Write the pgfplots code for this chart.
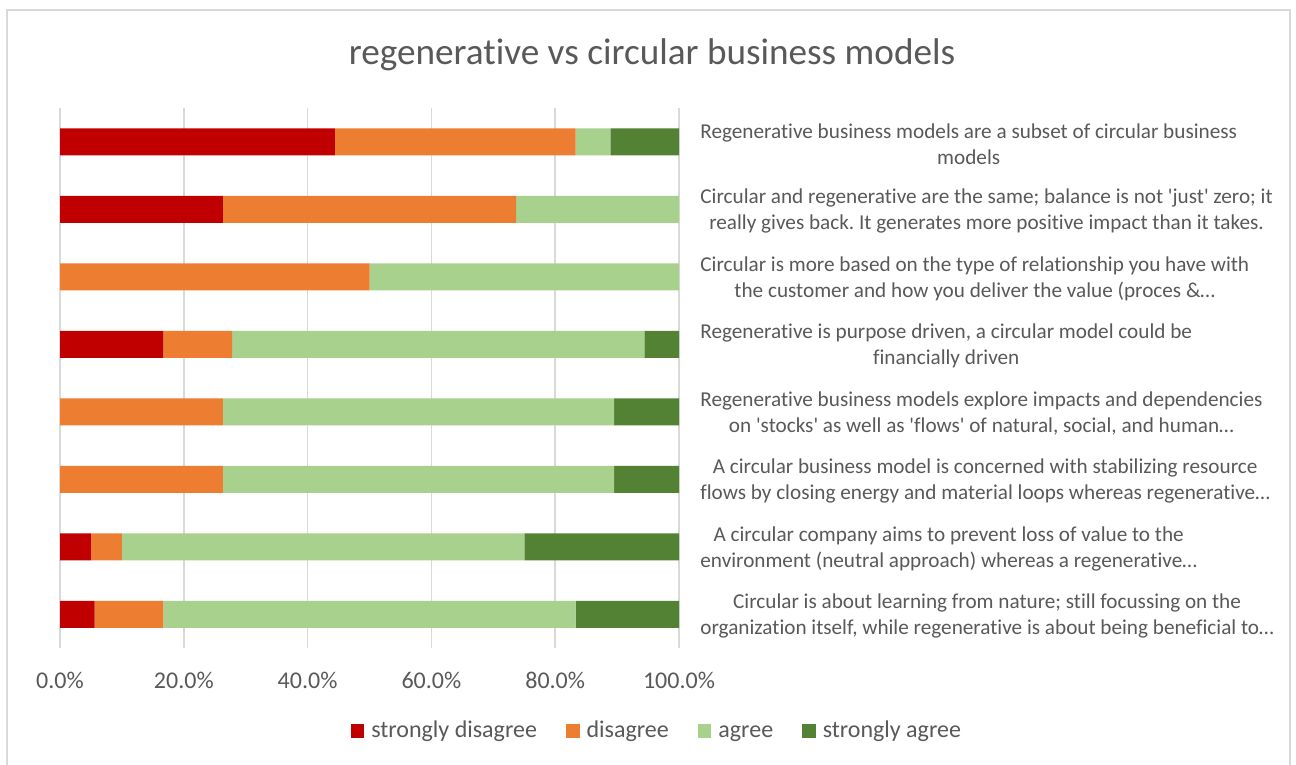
\documentclass[border=0pt]{standalone}
\usepackage{pgfplots}
\usepackage{pgfplotstable}
\pgfplotsset{compat=1.18}
\usepackage{fontspec}
\setmainfont{Carlito}[Ligatures=NoCommon]
\frenchspacing
\definecolor{txt}{HTML}{595959}
\definecolor{gridc}{HTML}{D9D9D9}
\definecolor{csd}{HTML}{C00000}
\definecolor{cd}{HTML}{ED7D31}
\definecolor{ca}{HTML}{A9D18E}
\definecolor{csa}{HTML}{548235}
\newcommand\q{\textquotesingle}
\pgfplotsset{sqleg/.style={legend image code/.code={\fill[##1] (0bp,-3.4bp) rectangle (6.8bp,3.4bp); \path (8.8bp,0bp);}}}
\pgfplotstableread{
y sd d a sa
7 44.4 38.9 5.6 11.1
6 26.3 47.4 26.3 0
5 0 50 50 0
4 16.7 11.1 66.6 5.6
3 0 26.3 63.2 10.5
2 0 26.3 63.2 10.5
1 5 5 65 25
0 5.6 11.1 66.6 16.7
}\datatable
\begin{document}
\begin{tikzpicture}
\useasboundingbox (0,0) rectangle (648bp,382.5bp);
\fill[white] (0,0) rectangle (648bp,382.5bp);
\draw[gridc, line width=0.75bp] (3.5bp,0) -- (3.5bp,377.5bp) -- (645bp,377.5bp) -- (645bp,0);
\node[text=txt, font=\fontsize{18.6bp}{22bp}\selectfont] at (326bp,355bp) {regenerative vs circular business models};
\begin{axis}[
  at={(30bp,58.5bp)}, anchor=south west,
  scale only axis, width=309.5bp, height=270bp,
  xbar stacked, bar width=0.4,
  xmin=0, xmax=100, ymin=-0.5, ymax=7.5,
  axis line style={draw=none},
  major tick length=0pt,
  xmajorgrids, grid style={gridc, line width=0.75bp},
  xtick={0,20,40,60,80,100},
  xticklabels={0.0\%,20.0\%,40.0\%,60.0\%,80.0\%,100.0\%},
  xticklabel style={font=\fontsize{12bp}{14bp}\selectfont, text=txt, inner sep=0pt, yshift=-12bp},
  ytick={0,1,2,3,4,5,6,7},
  yticklabel pos=right,
  yticklabels={
    {Circular is about learning from nature; still focussing on the\\organization itself, while regenerative is about being beneficial to…},
    {A circular company aims to prevent loss of value to the\\environment (neutral approach) whereas a regenerative…},
    {A circular business model is concerned with stabilizing resource\\flows by closing energy and material loops whereas regenerative…},
    {Regenerative business models explore impacts and dependencies\\on \q stocks\q{} as well as \q flows\q{} of natural, social, and human…},
    {Regenerative is purpose driven, a circular model could be\\financially driven},
    {Circular is more based on the type of relationship you have with\\the customer and how you deliver the value (proces \&…},
    {Circular and regenerative are the same; balance is not \q just\q{} zero; it\\really gives back. It generates more positive impact than it takes.},
    {Regenerative business models are a subset of circular business\\models}
  },
  yticklabel style={anchor=west, inner sep=0pt, xshift=10.5bp, align=center, text=txt, font=\fontsize{10.6bp}{13bp}\selectfont, yshift=-1bp},
  legend columns=4,
  legend style={draw=none, fill=none, at={(0.965,-0.154)}, anchor=center,
    font=\fontsize{12bp}{14bp}\selectfont, text=txt,
    /tikz/every even column/.append style={column sep=13bp},
    nodes={inner sep=1.5bp, text height=8.6bp, text depth=2.6bp}},
]
\addplot[fill=csd, draw=none, sqleg] table[x=sd, y=y] {\datatable};
\addplot[fill=cd, draw=none, sqleg] table[x=d, y=y] {\datatable};
\addplot[fill=ca, draw=none, sqleg] table[x=a, y=y] {\datatable};
\addplot[fill=csa, draw=none, sqleg] table[x=sa, y=y] {\datatable};
\legend{strongly disagree, disagree, agree, strongly agree}
\end{axis}
\end{tikzpicture}
\end{document}
